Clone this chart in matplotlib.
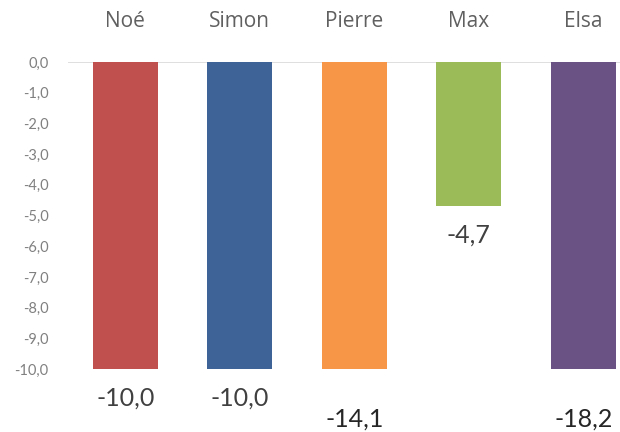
import matplotlib
matplotlib.use("Agg")
import matplotlib.pyplot as plt

names = ["Noé", "Simon", "Pierre", "Max", "Elsa"]
values = [-10.0, -10.0, -14.1, -4.7, -18.2]
colors = ["#C0504D", "#3E6396", "#F79646", "#9BBB59", "#6A5284"]
yticks = [0, -1, -2, -3, -4, -5, -6, -7, -8, -9, -10]
ymin, ymax = -10, 0

plt.rcParams["font.family"] = ["Lato", "DejaVu Sans"]

fig = plt.figure(figsize=(6.2, 4.32), dpi=100)
ax = fig.add_axes([68 / 620, 1 - 369 / 432, 1 - 68 / 620, (369 - 62) / 432])

x = list(range(len(names)))
ax.bar(x, values, width=0.57, color=colors, zorder=2)
ax.set_ylim(ymin, ymax)
ax.set_xlim(-0.5, 4.32)

ax.axhline(0, color="#D9D9D9", lw=1.2, zorder=1)
for s in ax.spines.values():
    s.set_visible(False)

ax.set_yticks(yticks)
ax.set_yticklabels([f"{v:.1f}".replace(".", ",") for v in yticks])
ax.tick_params(axis="y", length=0, pad=14, labelsize=10.5, labelcolor="#808080")
ax.set_xticks([])

# category names above the plot
for xi, n in zip(x, names):
    ax.annotate(n, (xi, ymax), xytext=(0, 29), textcoords="offset points",
                ha="center", va="center", fontsize=15, color="#606060",
                family=["Open Sans", "DejaVu Sans"], annotation_clip=False)

# value labels below each bar end; bars past the axis get a lower label
for xi, v in zip(x, values):
    txt = f"{v:.1f}".replace(".", ",")
    if v >= ymin:
        ax.annotate(txt, (xi, v), xytext=(0, -21), textcoords="offset points",
                    ha="center", va="center", fontsize=18, color="#404040",
                    annotation_clip=False)
    else:
        ax.annotate(txt, (xi, ymin), xytext=(0, -36), textcoords="offset points",
                    ha="center", va="center", fontsize=18, color="#262626",
                    annotation_clip=False)

fig.savefig("out.png", dpi=100, facecolor="white")
